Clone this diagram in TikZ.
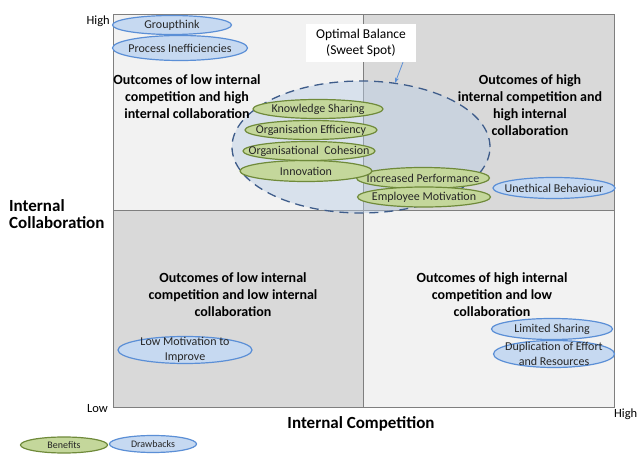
\documentclass[tikz,border=0pt]{standalone}
\usepackage{fontspec}
\setmainfont{Carlito}
\usetikzlibrary{shapes.geometric,arrows.meta}
\definecolor{qlight}{HTML}{F2F2F2}
\definecolor{qdark}{HTML}{D9D9D9}
\definecolor{qborder}{HTML}{7F7F7F}
\definecolor{gfill}{HTML}{C4D79B}
\definecolor{gline}{HTML}{6F8A3A}
\definecolor{bfill}{HTML}{C6D9F1}
\definecolor{bline}{HTML}{5B8FD6}
\definecolor{dline}{HTML}{3E5C8A}
\definecolor{dfill}{HTML}{B9CDE5}
\begin{document}
\begin{tikzpicture}[x=1pt,y=-1pt,
  quad/.style={draw=qborder,line width=0.8pt},
  lbl/.style={font=\fontsize{12}{15}\selectfont,align=center,inner sep=0pt,text=black!85},
  ben/.style={ellipse,draw=gline,fill=gfill,line width=1.2pt,inner sep=0pt},
  drw/.style={ellipse,draw=bline,fill=bfill,line width=1.2pt,inner sep=0pt},
  qtext/.style={font=\bfseries\fontsize{14}{17}\selectfont,align=center,inner sep=0pt},
  axlbl/.style={font=\bfseries\fontsize{17}{17}\selectfont,inner sep=0pt},
  tick/.style={font=\fontsize{12.5}{13}\selectfont,inner sep=0pt},
  sweet/.style={ellipse,draw=dline,fill=dfill,fill opacity=0.45,line width=1.3pt,dash pattern=on 9pt off 6pt,inner sep=0pt},
]
\useasboundingbox (0,0) rectangle (638,454);
\fill[white] (0,0) rectangle (638,454);
% quadrants
\path[quad,fill=qlight] (113,14) rectangle (363,210);
\path[quad,fill=qdark] (363,14) rectangle (614,210);
\path[quad,fill=qdark] (113,210) rectangle (363,407);
\path[quad,fill=qlight] (363,210) rectangle (614,407);
% sweet spot
\node[sweet,minimum width=258pt,minimum height=132pt] (sw) at (361,147) {};
% quadrant texts
\node[qtext] (tl) at (187,97) {Outcomes of low internal\\competition and high\\internal collaboration};
\node[qtext] (tr) at (530,105) {Outcomes of high\\internal competition and\\high internal\\collaboration};
\node[qtext] (bl) at (233,295) {Outcomes of low internal\\competition and low internal\\collaboration};
\node[qtext] (br) at (492,295) {Outcomes of high internal\\competition and low\\collaboration};
% optimal balance box
\node[fill=white,minimum width=110pt,minimum height=38pt,align=center,font=\fontsize{13.5}{16}\selectfont,inner sep=0pt] (box) at (361,43) {Optimal Balance\\(Sweet Spot)};
\draw[bline,line width=0.8pt,-{Stealth[length=5pt,width=4pt]}] ([xshift=42pt]box.south) -- (sw.62);
% benefits
\node[ben,minimum width=133pt,minimum height=21pt,label={[lbl]center:Increased Performance}] (ip) at (423,178) {};
\node[ben,minimum width=133pt,minimum height=20pt,label={[lbl]center:Employee Motivation}] (em) at (424,197) {};
\node[ben,minimum width=132pt,minimum height=21pt,label={[lbl]center:Innovation}] (in) at (306,171) {};
\node[ben,minimum width=132pt,minimum height=19pt,label={[lbl]center:Organisational~ Cohesion}] (oc) at (309,151) {};
\node[ben,minimum width=132pt,minimum height=19pt,label={[lbl]center:Organisation Efficiency}] (oe) at (311,130) {};
\node[ben,minimum width=130pt,minimum height=19pt,label={[lbl]center:Knowledge Sharing}] (ks) at (318,109) {};
% drawbacks
\node[drw,minimum width=119pt,minimum height=19pt,label={[lbl]center:Groupthink}] (gt) at (172,25) {};
\node[drw,minimum width=135pt,minimum height=25pt,label={[lbl]center:Process Inefficiencies}] (pi) at (180,48) {};
\node[drw,minimum width=122pt,minimum height=21pt,label={[lbl]center:Unethical Behaviour}] (ub) at (554,188) {};
\node[drw,minimum width=134pt,minimum height=27pt,label={[lbl]center:Low Motivation to\\Improve}] (lm) at (185,350) {};
\node[drw,minimum width=121pt,minimum height=21pt,label={[lbl]center:Limited Sharing}] (ls) at (552,329) {};
\node[drw,minimum width=121pt,minimum height=27pt,label={[lbl]center:Duplication of Effort\\and Resources}] (du) at (554,354) {};
% axis labels
\node[tick,anchor=east] (hy) at (110,21) {High};
\node[tick,anchor=east] (ly) at (108,409) {Low};
\node[tick,anchor=west] (hx) at (614,414) {High};
\node[axlbl] (xc) at (361,424) {Internal Competition};
\node[axlbl,align=left,anchor=west] (yc) at (9,214) {Internal\\Collaboration};
% legend
\node[ben,minimum width=87pt,minimum height=16pt,label={[lbl,font=\fontsize{10}{11}\selectfont]center:Benefits}] (lb) at (64,445) {};
\node[drw,minimum width=87pt,minimum height=17pt,label={[lbl,font=\fontsize{10}{11}\selectfont]center:Drawbacks}] (ld) at (153,444) {};
\end{tikzpicture}
\end{document}
